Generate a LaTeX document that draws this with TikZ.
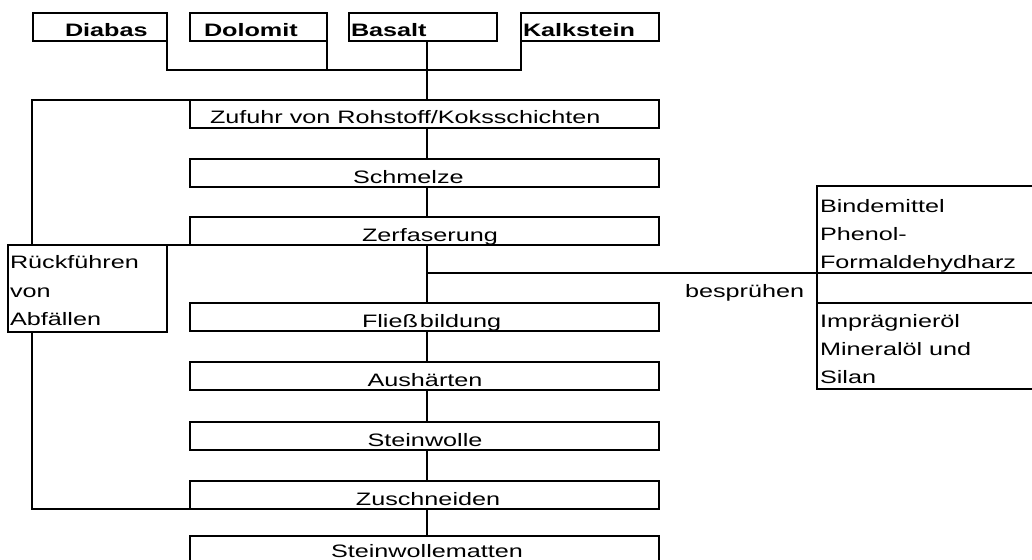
\documentclass[tikz,border=0pt]{standalone}
\usepackage{fontspec}
\setmainfont{Liberation Sans}[FakeStretch=1.4]
\newcommand{\fs}{\fontsize{18}{21}\selectfont}
\begin{document}
\begin{tikzpicture}[x=1pt,y=-1pt,
  box/.style={draw, line width=1.8pt, inner sep=0pt, outer sep=0pt, anchor=north west},
  mainbox/.style={box, minimum width=469pt, minimum height=28pt},
  topbox/.style={box, minimum height=28pt},
  lbl/.style={inner sep=0pt, outer sep=0pt, anchor=base west, font=\fs},
  blbl/.style={lbl, font=\fs\bfseries},
  clbl/.style={inner sep=0pt, outer sep=0pt, anchor=base, font=\fs},
  conn/.style={line width=1.8pt}]
\useasboundingbox (0,0) rectangle (1032,559);
\clip (0,0) rectangle (1032,559);
\fill[white] (0,0) rectangle (1032,559);

% reference coordinates
\coordinate (spine) at (427,0);
\coordinate (fb) at (32,0);
\coordinate (j) at (427,70);

% top raw material boxes
\node[topbox, minimum width=134pt] (Diabas) at (33,13) {};
\node[topbox, minimum width=137pt] (Dolomit) at (190,13) {};
\node[topbox, minimum width=148pt] (Basalt) at (349,13) {};
\node[topbox, minimum width=138pt] (Kalkstein) at (521,13) {};
\node[blbl] (tDiabas) at (65,37) {Diabas};
\node[blbl] (tDolomit) at (204,37) {Dolomit};
\node[blbl] (tBasalt) at (351,37) {Basalt};
\node[blbl] (tKalkstein) at (523,37) {Kalkstein};

% main process boxes
\node[mainbox] (Zufuhr) at (190,100) {};
\node[mainbox] (Schmelze) at (190,159) {};
\node[mainbox] (Zerf) at (190,217) {};
\node[mainbox] (Fliess) at (190,303) {};
\node[mainbox] (Aush) at (190,362) {};
\node[mainbox] (Stein) at (190,422) {};
\node[mainbox] (Zusch) at (190,481) {};
\node[mainbox] (Matten) at (190,536) {};

\node[lbl] (tZufuhr) at (210,124) {Zufuhr von Rohstoff/Koksschichten};
\node[lbl] (tSchmelze) at (353,183) {Schmelze};
\node[lbl] (tZerf) at (362,241) {Zerfaserung};
\node[lbl] (tFliess) at (362,327) {Fließ\kern2pt bildung};
\node[clbl] (tAush) at (425,386) {Aushärten};
\node[clbl] (tStein) at (425,446) {Steinwolle};
\node[clbl] (tZusch) at (428,505) {Zuschneiden};
\node[clbl] (tMatten) at (427,557) {Steinwollematten};

% recycling box
\node[box, minimum width=159pt, minimum height=87pt] (Rueck) at (8,245) {};
\node[lbl] (tR1) at (10,268) {Rückführen};
\node[lbl] (tR2) at (10,297) {von};
\node[lbl] (tR3) at (10,325) {Abfällen};

% spray box on the right
\node[box, minimum width=240pt, minimum height=203pt] (Spray) at (817,186) {};
\coordinate (br) at (427,273);
\coordinate (sp2) at (817,303);
\node[lbl] (tB1) at (820,212) {Bindemittel};
\node[lbl] (tB2) at (820,240) {Phenol-};
\node[lbl] (tB3) at (820,268) {Formaldehydharz};
\node[lbl] (tI1) at (820,327) {Imprägnieröl};
\node[lbl] (tI2) at (820,355) {Mineralöl und};
\node[lbl] (tI3) at (820,383) {Silan};
\node[lbl] (tbes) at (685,297) {besprühen};

% connectors: raw materials
\draw[conn] (Diabas.south east) |- (j);
\draw[conn] (Dolomit.south east) |- (j);
\draw[conn] (Kalkstein.south west) |- (j);
\draw[conn] (Basalt.south -| spine) -- (Zufuhr.north -| spine);

% main chain
\draw[conn] (Zufuhr.south -| spine) -- (Schmelze.north -| spine);
\draw[conn] (Schmelze.south -| spine) -- (Zerf.north -| spine);
\draw[conn] (Zerf.south -| spine) -- (Fliess.north -| spine);
\draw[conn] (Fliess.south -| spine) -- (Aush.north -| spine);
\draw[conn] (Aush.south -| spine) -- (Stein.north -| spine);
\draw[conn] (Stein.south -| spine) -- (Zusch.north -| spine);
\draw[conn] (Zusch.south -| spine) -- (Matten.north -| spine);

% spray branch
\draw[conn] (br) -- (br -| Spray.east);
\draw[conn] (sp2) -- (sp2 -| Spray.east);

% recycling loop
\draw[conn] (Zufuhr.north west) -| (Rueck.north -| fb);
\draw[conn] (Zerf.south west) -- (Rueck.north east);
\draw[conn] (Zusch.south west) -| (Rueck.south -| fb);
\end{tikzpicture}
\end{document}
